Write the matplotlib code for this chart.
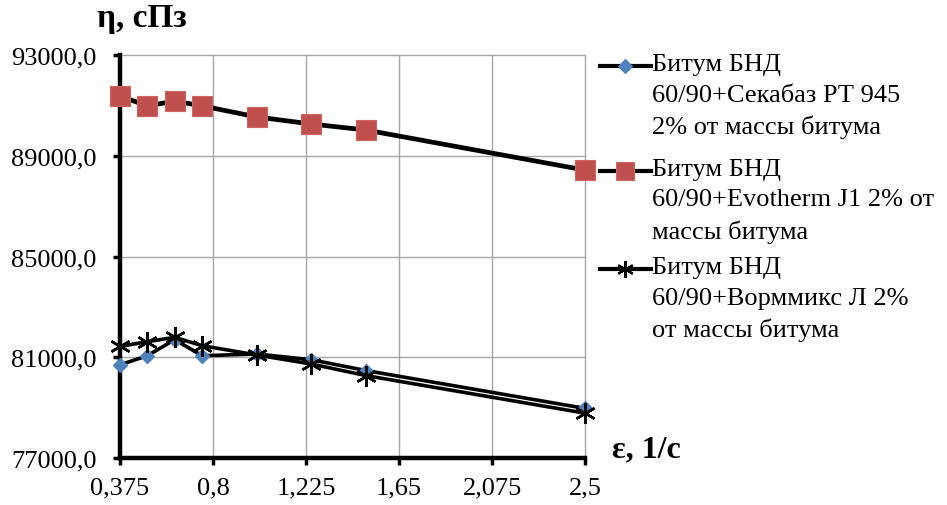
import matplotlib
matplotlib.use("Agg")
import matplotlib.pyplot as plt
from matplotlib.lines import Line2D

plt.rcParams['font.family'] = ['Liberation Serif', 'DejaVu Serif']

# Data
shear_rate = [0.375, 0.5, 0.625, 0.75, 1.0, 1.25, 1.5, 2.5]
sekabaz = [80700, 81060, 81700, 81060, 81130, 80900, 80470, 78970]
evotherm = [91370, 90980, 91170, 90980, 90540, 90260, 90020, 88430]
wormmix = [81430, 81620, 81790, 81460, 81090, 80730, 80270, 78780]

x_ticks = [0.375, 0.8, 1.225, 1.65, 2.075, 2.5]
x_tick_labels = ["0,375", "0,8", "1,225", "1,65", "2,075", "2,5"]
y_ticks = [77000, 81000, 85000, 89000, 93000]
y_tick_labels = ["77000,0", "81000,0", "85000,0", "89000,0", "93000,0"]

labels = [
    "Битум БНД\n60/90+Секабаз РТ 945\n2% от массы битума",
    "Битум БНД\n60/90+Evotherm J1 2% от\nмассы битума",
    "Битум БНД\n60/90+Ворммикс Л 2%\nот массы битума",
]

blue = "#4F81BD"
red = "#C0504D"
star = (6, 2, 0)

W, H = 947, 506
fig = plt.figure(figsize=(W / 100, H / 100), dpi=100)
ax = fig.add_axes([120 / W, 1 - 459 / H, (585 - 120) / W, (459 - 56) / H])

ax.plot(shear_rate, evotherm, color="black", lw=3.4, marker="s", ms=14,
        mfc=red, mec="#D06560", mew=0.8, zorder=3, clip_on=False)
ax.plot(shear_rate, sekabaz, color="black", lw=2.6, marker="D", ms=7,
        mfc=blue, mec=blue, zorder=3, clip_on=False)
ax.plot(shear_rate, wormmix, color="black", lw=2.6, marker=star, ms=15,
        mfc="black", mec="black", mew=1.8, zorder=4, clip_on=False)

ax.set_xlim(0.375, 2.5)
ax.set_ylim(77000, 93000)
ax.set_xticks(x_ticks)
ax.set_xticklabels(x_tick_labels)
ax.set_yticks(y_ticks)
ax.set_yticklabels(y_tick_labels)

ax.grid(True, color="#A6A6A6", lw=1.0)
for gl in ax.get_xgridlines() + ax.get_ygridlines():
    gl.set_clip_on(False)
ax.set_axisbelow(True)

for s in ["top", "right"]:
    ax.spines[s].set_visible(False)
for s in ["left", "bottom"]:
    ax.spines[s].set_linewidth(3.2)
    ax.spines[s].set_color("black")

ax.tick_params(axis="both", direction="out", length=5, width=2.5,
               color="black", labelsize=19)
ax.tick_params(axis="y", pad=12)
ax.tick_params(axis="x", pad=8)

fig.text(97 / W, 1 - 18 / H, "η, сПз", fontsize=24, fontweight="bold",
         ha="left", va="center")
fig.text(612 / W, 1 - 450 / H, "ε, 1/с", fontsize=23, fontweight="bold",
         ha="left", va="center")

# Legend (manual)
entries_y = [67, 172, 270]
markers = [("D", 7, blue, blue, 0.8), ("s", 13, red, "#D06560", 0.8),
           (star, 12, "black", "black", 1.6)]
for yy, lab, (mk, ms, fc, ec, mw) in zip(entries_y, labels, markers):
    yf = 1 - yy / H
    fig.add_artist(Line2D([600 / W, 651 / W], [yf, yf], color="black",
                          lw=3.0, transform=fig.transFigure))
    fig.add_artist(Line2D([625 / W], [yf], marker=mk, ms=ms, mfc=fc, mec=ec,
                          mew=mw, ls="none", transform=fig.transFigure))
    fig.text(652 / W, yf + 13 / H, lab, fontsize=19, ha="left", va="top",
             linespacing=1.5)

fig.savefig("out.png", dpi=100)
